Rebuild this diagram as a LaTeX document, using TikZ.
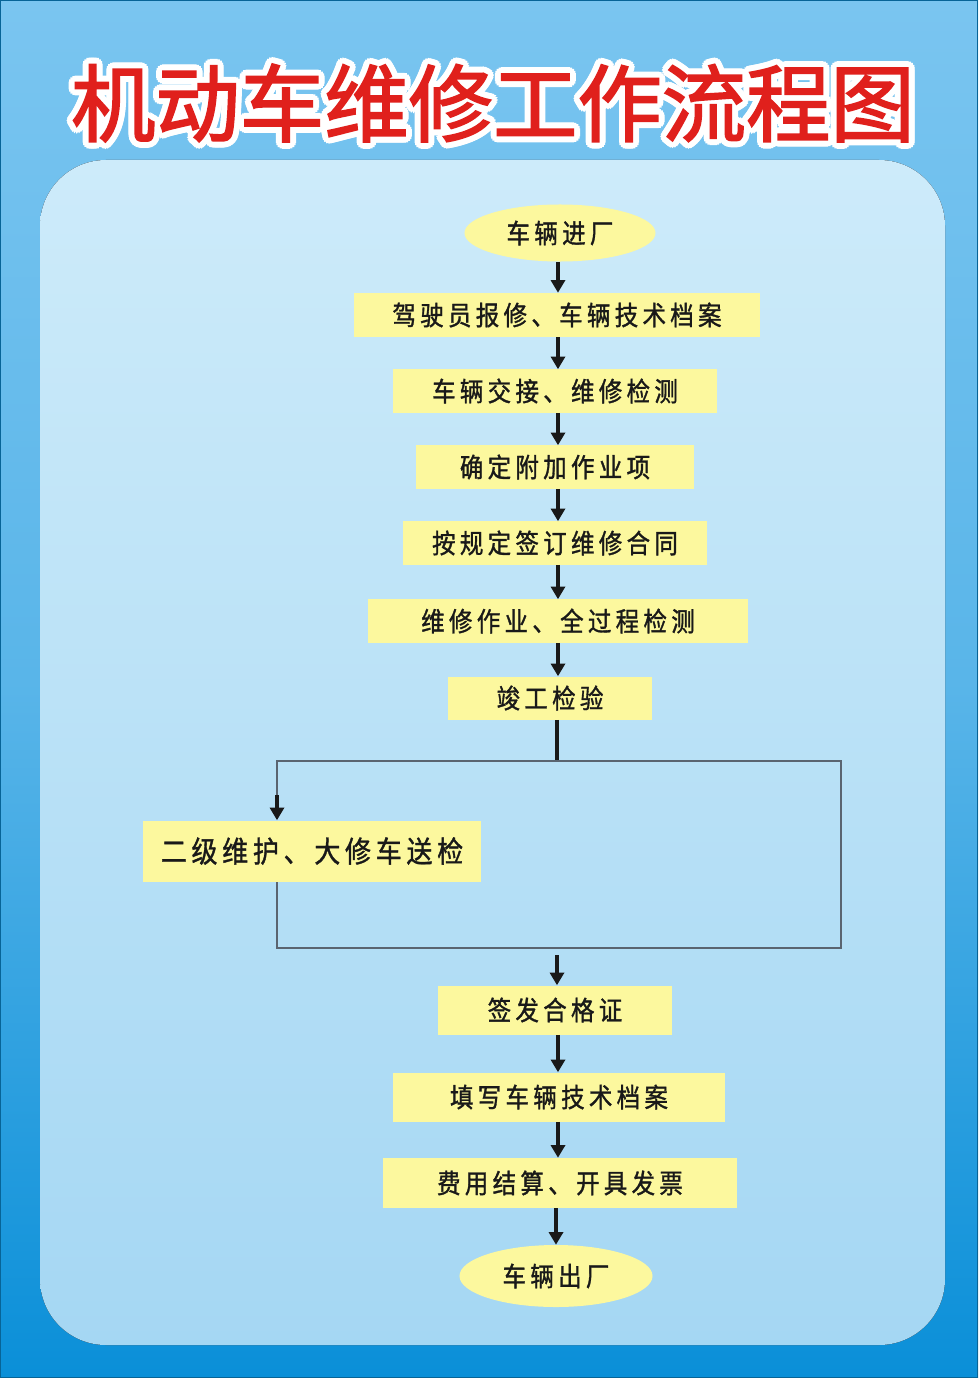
\documentclass[tikz,border=0pt]{standalone}
\usepackage{fontspec}
\newfontfamily\cjk{Noto Sans CJK SC}[LetterSpace=16, FakeStretch=0.88, FakeBold=1.2]
\newfontfamily\cjktitle{Noto Sans CJK SC}[FakeBold=2]
\usetikzlibrary{shapes.geometric, arrows.meta, calc, positioning}
\definecolor{OuterTop}{HTML}{7AC5F0}
\definecolor{OuterBottom}{HTML}{0A8FD8}
\definecolor{InnerTop}{HTML}{CDEBFA}
\definecolor{InnerBottom}{HTML}{A5D7F3}
\definecolor{BoxFill}{HTML}{FCF89E}
\definecolor{TitleRed}{HTML}{E0201C}
\definecolor{LoopGray}{HTML}{5A6470}
\newcommand{\boxfont}{\cjk\fontsize{19}{22}\selectfont}
\tikzstyle{titletext} = [font=\cjktitle\fontsize{60}{66}\selectfont, inner sep=0pt]
\tikzstyle{block} = [rectangle, fill=BoxFill, inner sep=0pt, text=black!90, font=\boxfont]
\tikzstyle{terminal} = [ellipse, fill=BoxFill, inner sep=0pt, text=black!90, font=\boxfont]
\tikzstyle{arrow} = [line width=2.2pt, black!90, -{Triangle[width=10pt,length=9pt]}]
\tikzstyle{loopline} = [line width=0.9pt, LoopGray]

\begin{document}
\begin{tikzpicture}[x=0.025cm, y=-0.025cm]
	\useasboundingbox (0,0) rectangle (978,1378);
	\fill[top color=OuterTop, bottom color=OuterBottom, middle color=OuterTop!70!OuterBottom] (0,0) rectangle (978,1378);
	\draw[OuterBottom!70!black, line width=1pt] (0.5,0.5) rectangle (977.5,1377.5);
	\fill[top color=InnerTop, bottom color=InnerBottom, rounded corners=1.65cm] (40,160) rectangle (945,1345);
	\foreach \a in {0,22.5,...,337.5}
		\node[titletext, white] at ($(493,103)+(\a:6)$) {机动车维修工作流程图};
	\node (Title) [titletext, TitleRed] at (493,103) {机动车维修工作流程图};
	\node (Enter) [terminal, minimum width=4.775cm, minimum height=1.425cm] at (560,233) {车辆进厂};
	\node (Report) [block, minimum width=10.125cm, minimum height=1.1cm] at (557,315) {驾驶员报修、车辆技术档案};
	\node (Handover) [block, minimum width=8.1cm, minimum height=1.075cm] at (555,391) {车辆交接、维修检测};
	\node (Extra) [block, minimum width=6.925cm, minimum height=1.075cm] at (555,467) {确定附加作业项};
	\node (Contract) [block, minimum width=7.575cm, minimum height=1.075cm] at (555,543) {按规定签订维修合同};
	\node (Repair) [block, minimum width=9.5cm, minimum height=1.075cm] at (558,621) {维修作业、全过程检测};
	\node (Final) [block, minimum width=5.075cm, minimum height=1.075cm] at (550,698) {竣工检验};
	\node (Send) [block, minimum width=8.45cm, minimum height=1.525cm, font=\cjk\fontsize{21}{24}\selectfont] at (312,851) {二级维护、大修车送检};
	\node (Cert) [block, minimum width=5.825cm, minimum height=1.225cm] at (555,1010) {签发合格证};
	\node (Record) [block, minimum width=8.3cm, minimum height=1.225cm] at (559,1097) {填写车辆技术档案};
	\node (Bill) [block, minimum width=8.85cm, minimum height=1.25cm] at (560,1183) {费用结算、开具发票};
	\node (Exit) [terminal, minimum width=4.825cm, minimum height=1.55cm] at (556,1276) {车辆出厂};
	\coordinate (LoopTop) at (557,761);
	\coordinate (LoopL) at (277,761);
	\coordinate (LoopR) at (841,761);
	\coordinate (LoopB) at (557,948);
	\coordinate (SendIn) at (277,795);
	\draw [arrow] (Enter.south -| 558,0) -- (Report.north -| 558,0);
	\draw [arrow] (Report.south -| 558,0) -- (Handover.north -| 558,0);
	\draw [arrow] (Handover.south -| 558,0) -- (Extra.north -| 558,0);
	\draw [arrow] (Extra.south -| 558,0) -- (Contract.north -| 558,0);
	\draw [arrow] (Contract.south -| 558,0) -- (Repair.north -| 558,0);
	\draw [arrow] (Repair.south -| 558,0) -- (Final.north -| 558,0);
	\draw [line width=2.2pt, black!90] (Final.south -| LoopTop) -- (LoopTop);
	\draw [loopline] (SendIn) -- (LoopL) -- (LoopR) -- (LoopR |- LoopB) -- (LoopL |- LoopB) -- (LoopL |- Send.south);
	\draw [arrow] (SendIn) -- (SendIn |- Send.north);
	\draw [arrow, shorten <=0.175cm] (LoopB) -- (Cert.north -| LoopB);
	\draw [arrow] (Cert.south -| 558,0) -- (Record.north -| 558,0);
	\draw [arrow] (Record.south -| 558,0) -- (Bill.north -| 558,0);
	\draw [arrow] (Bill.south -| 556,0) -- (Exit.north -| 556,0);
\end{tikzpicture}
\end{document}
